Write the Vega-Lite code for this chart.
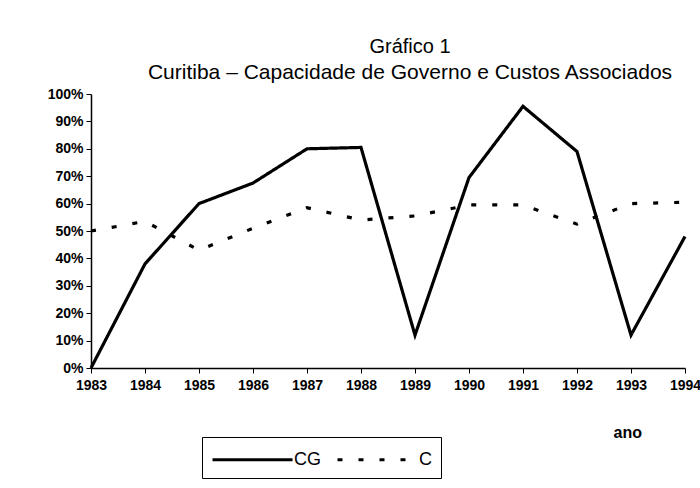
{
  "$schema": "https://vega.github.io/schema/vega-lite/v6.json",
  "width": 594,
  "height": 274,
  "autosize": {"type": "none"},
  "padding": {"left": 91, "top": 94, "right": 15, "bottom": 120},
  "background": "white",
  "config": {
    "view": {"stroke": null},
    "font": "Liberation Sans",
    "axis": {
      "labelFont": "Liberation Sans",
      "labelFontSize": 14,
      "labelFontWeight": "bold",
      "labelColor": "black",
      "labelFlush": false,
      "labelOverlap": false,
      "domainColor": "black",
      "domainWidth": 1.5,
      "tickColor": "black",
      "tickWidth": 1,
      "tickSize": 5,
      "grid": false,
      "titleFont": "Liberation Sans",
      "titleColor": "black",
      "titleFontWeight": "bold"
    }
  },
  "title": {
    "text": "Gráfico 1",
    "subtitle": "Curitiba – Capacidade de Governo e Custos Associados",
    "anchor": "middle",
    "dx": 22,
    "font": "Liberation Sans",
    "fontSize": 20,
    "fontWeight": "normal",
    "color": "black",
    "subtitleFont": "Liberation Sans",
    "subtitleFontSize": 21,
    "subtitleColor": "black",
    "subtitlePadding": 5,
    "offset": 4
  },
  "data": {
    "values": [
      {"ano": 1983, "serie": "CG", "valor": 0.0},
      {"ano": 1984, "serie": "CG", "valor": 0.38},
      {"ano": 1985, "serie": "CG", "valor": 0.60},
      {"ano": 1986, "serie": "CG", "valor": 0.675},
      {"ano": 1987, "serie": "CG", "valor": 0.80},
      {"ano": 1988, "serie": "CG", "valor": 0.805},
      {"ano": 1989, "serie": "CG", "valor": 0.12},
      {"ano": 1990, "serie": "CG", "valor": 0.695},
      {"ano": 1991, "serie": "CG", "valor": 0.955},
      {"ano": 1992, "serie": "CG", "valor": 0.79},
      {"ano": 1993, "serie": "CG", "valor": 0.12},
      {"ano": 1994, "serie": "CG", "valor": 0.48},
      {"ano": 1983, "serie": "C", "valor": 0.50},
      {"ano": 1984, "serie": "C", "valor": 0.535},
      {"ano": 1985, "serie": "C", "valor": 0.43},
      {"ano": 1986, "serie": "C", "valor": 0.51},
      {"ano": 1987, "serie": "C", "valor": 0.585},
      {"ano": 1988, "serie": "C", "valor": 0.54},
      {"ano": 1989, "serie": "C", "valor": 0.555},
      {"ano": 1990, "serie": "C", "valor": 0.595},
      {"ano": 1991, "serie": "C", "valor": 0.595},
      {"ano": 1992, "serie": "C", "valor": 0.525},
      {"ano": 1993, "serie": "C", "valor": 0.60},
      {"ano": 1994, "serie": "C", "valor": 0.605}
    ]
  },
  "mark": {"type": "line", "color": "black", "strokeWidth": 3.2, "strokeJoin": "miter"},
  "encoding": {
    "x": {
      "field": "ano",
      "type": "quantitative",
      "scale": {"domain": [1983, 1994], "nice": false, "zero": false},
      "axis": {
        "values": [1983, 1984, 1985, 1986, 1987, 1988, 1989, 1990, 1991, 1992, 1993, 1994],
        "format": "d",
        "labelPadding": 5,
        "title": "ano",
        "titleFontSize": 16,
        "titleAnchor": "start",
        "titleAlign": "left",
        "titleBaseline": "alphabetic",
        "titleX": 522,
        "titleY": 69
      }
    },
    "y": {
      "field": "valor",
      "type": "quantitative",
      "scale": {"domain": [0, 1], "nice": false},
      "axis": {
        "values": [0, 0.1, 0.2, 0.3, 0.4, 0.5, 0.6, 0.7, 0.8, 0.9, 1.0],
        "format": ".0%",
        "labelPadding": 3,
        "title": null
      }
    },
    "strokeDash": {
      "field": "serie",
      "type": "nominal",
      "scale": {"domain": ["CG", "C"], "range": [[1, 0], [5, 16]]},
      "legend": {
        "title": null,
        "orient": "none",
        "direction": "horizontal",
        "legendX": 111,
        "legendY": 343,
        "symbolType": "M-1,0H5.67",
        "symbolSize": 576,
        "symbolStrokeWidth": 3,
        "symbolStrokeColor": "black",
        "symbolFillColor": "transparent",
        "labelFont": "Liberation Sans",
        "labelFontSize": 18,
        "labelColor": "black",
        "labelOffset": 56,
        "labelExpr": "datum.label == 'C' ? 'C\u00a0\u00a0\u00a0' : datum.label",
        "columnPadding": 10,
        "padding": 9,
        "strokeColor": "black",
        "fillColor": "white"
      }
    }
  }
}
